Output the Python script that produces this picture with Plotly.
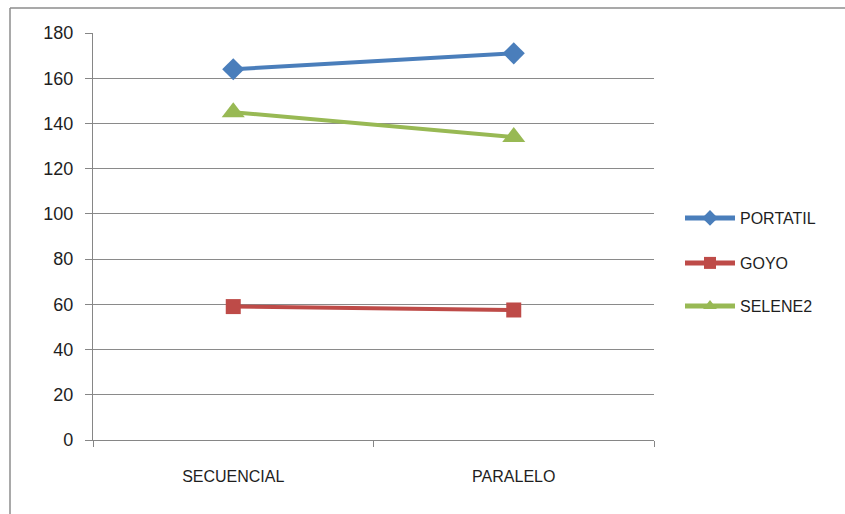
import plotly.graph_objects as go

# Category labels and measured values per machine
categories = ["SECUENCIAL", "PARALELO"]
portatil = [164, 171]
goyo = [59, 57.5]
selene2 = [145, 134]

y_ticks = [0, 20, 40, 60, 80, 100, 120, 140, 160, 180]

W, H = 845, 514
ML, MR, MT, MB = 93, 191, 33, 74
PW, PH = W - ML - MR, H - MT - MB

def px_x(p):
    return (p - ML) / PW

def px_y(p):
    return 1 - (p - MT) / PH

series = [
    ("PORTATIL", portatil, "#4A7EBB", "diamond", 17, "legend"),
    ("GOYO", goyo, "#BE4B48", "square", 15, "legend2"),
    ("SELENE2", selene2, "#98B954", "triangle-up", 20, "legend3"),
]

fig = go.Figure()
for name, vals, color, sym, size, leg in series:
    fig.add_trace(go.Scatter(
        x=categories, y=vals, name=name, mode="lines+markers",
        line=dict(color=color, width=4),
        marker=dict(symbol=sym, size=size, color=color),
        legend=leg,
    ))

text_font = dict(family="Liberation Sans, Arial, sans-serif", size=16, color="#1e1e1e")
legend_rows = [218, 263, 306]
legend_common = dict(x=px_x(680), xanchor="left", yanchor="middle",
                     bgcolor="rgba(0,0,0,0)", font=text_font, itemwidth=50,
                     itemsizing="constant")

fig.update_layout(
    width=W, height=H,
    margin=dict(l=ML, r=MR, t=MT, b=MB),
    paper_bgcolor="white", plot_bgcolor="white",
    showlegend=True,
    legend=dict(y=px_y(legend_rows[0]), **legend_common),
    legend2=dict(y=px_y(legend_rows[1]), **legend_common),
    legend3=dict(y=px_y(legend_rows[2]), **legend_common),
    xaxis=dict(
        type="category", range=[-0.5, 1.5], tickson="boundaries",
        showgrid=False, showline=True, linecolor="#868686", linewidth=1.2,
        ticks="outside", ticklen=6, tickcolor="#868686",
        tickfont=text_font, ticklabelstandoff=22,
        zeroline=False,
    ),
    yaxis=dict(
        range=[0, 180], tickvals=y_ticks,
        showgrid=True, gridcolor="#8a8a8a", gridwidth=1,
        showline=True, linecolor="#868686", linewidth=1.2,
        ticks="outside", ticklen=7, tickcolor="#868686",
        tickfont=dict(family="Liberation Sans, Arial, sans-serif", size=18, color="#1e1e1e"),
        ticklabelstandoff=8,
        zeroline=False,
    ),
    shapes=[
        dict(type="line", xref="paper", yref="paper",
             x0=px_x(10), x1=px_x(860), y0=px_y(8), y1=px_y(8),
             line=dict(color="#8c8c8c", width=1.5)),
        dict(type="line", xref="paper", yref="paper",
             x0=px_x(10), x1=px_x(10), y0=px_y(8), y1=px_y(530),
             line=dict(color="#8c8c8c", width=1.5)),
    ],
)

fig.write_html("out.html")
